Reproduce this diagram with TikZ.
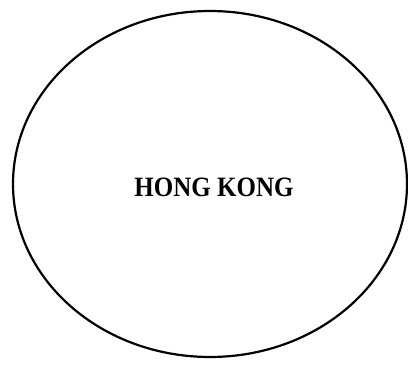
\documentclass[tikz,border=0pt]{standalone}
\usepackage{fontspec}
\setmainfont{Liberation Serif}
\usetikzlibrary{shapes.geometric}
\begin{document}
\begin{tikzpicture}[x=1pt,y=1pt,
  region/.style={draw=black, line width=2.2pt, ellipse, minimum width=394pt, minimum height=346pt, inner sep=0pt},
  label/.style={font=\bfseries\fontsize{25}{28}\selectfont, inner sep=0pt}]
  \useasboundingbox (0,0) rectangle (408,365);
  \node[region] (hk) at (210,181) {};
  \node[label, yscale=1.12] (hklabel) at (214,178) {HONG KONG};
\end{tikzpicture}
\end{document}
